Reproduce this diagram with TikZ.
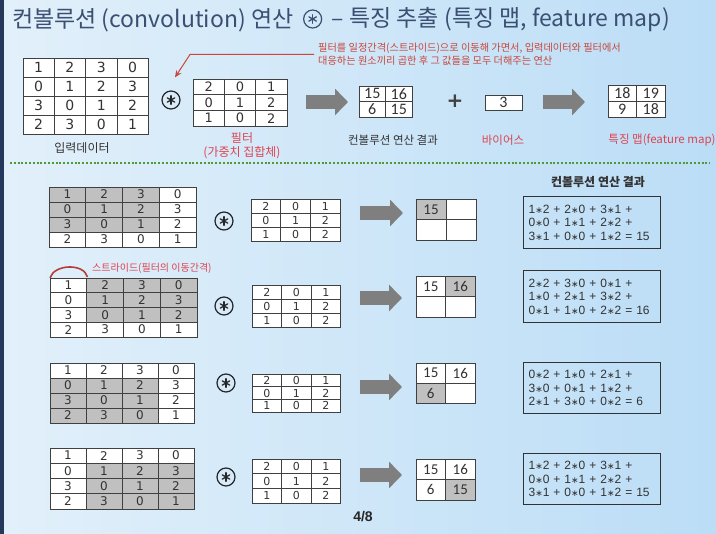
\documentclass[tikz,border=0pt]{standalone}
\usepackage{fontspec}
\setmainfont{Liberation Sans}
\newfontfamily\kr{Noto Sans CJK KR}
\newfontfamily\dv{DejaVu Sans}
\newfontfamily\crl{Carlito}
\usetikzlibrary{arrows.meta,calc}

\definecolor{bgL}{HTML}{E2F0FA}
\definecolor{bgM}{HTML}{EFF7FC}
\definecolor{bgR}{HTML}{BBDDF6}
\definecolor{navy}{HTML}{24395A}
\definecolor{titleblue}{HTML}{3B4F72}
\definecolor{gridline}{HTML}{404040}
\definecolor{cellshade}{HTML}{C0C0C0}
\definecolor{arrowgray}{HTML}{7F7F7F}
\definecolor{lblred}{HTML}{DD4452}
\definecolor{notered}{HTML}{C8463C}
\definecolor{dotgreen}{HTML}{4E9A34}
\definecolor{darktext}{HTML}{333333}

% grid of numbered cells:
% #1 name, #2 x, #3 y (top left), #4 cell width, #5 cell height,
% #6 rows, #7/#8 first shaded row/column, #9 size of the shaded window
\newcommand\numgrid[9]{%
  \foreach \rowdata [count=\r] in {#6} {
    \foreach \v [count=\c] in \rowdata {
      \pgfmathtruncatemacro\insh{and(and(\r>=#7,\r<#7+#9),and(\c>=#8,\c<#8+#9))}
      \ifnum\insh=1 \def\cfill{cellshade}\else\def\cfill{white}\fi
      \node[cell, fill=\cfill, minimum width=#4, minimum height=#5]
        (#1-\r-\c) at ({#2+(\c-0.5)*#4},{#3+(\r-0.5)*#5}) {\v};
    }
  }
}

% circled asterisk operator: #1 name, #2 position, #3 colour
\newcommand\convop[3]{%
  \node[opcirc, draw=#3] (#1) at (#2) {};
  \foreach \a in {90,30,-30}
    \draw[#3, line width=1.3pt, line cap=round]
      ($(#1.center)+(\a:4.3)$) -- ($(#1.center)+(\a+180:4.3)$);
}

\def\gridfont{\dv\fontsize{12}{12}\selectfont}

\tikzset{
  cell/.style={draw=gridline, line width=0.8pt, inner sep=0pt, text=black!80, font=\gridfont},
  opcirc/.style={circle, line width=1.2pt, minimum size=18pt, inner sep=0pt},
  blockarrow/.style={arrowgray, line width=14pt, -{Triangle[width=26pt,length=13pt]}},
  lbl/.style={font=\kr\fontsize{12}{14}\selectfont, text=darktext, inner sep=0pt},
  redlbl/.style={lbl, text=lblred},
  ttlfont/.style={inner sep=0pt, text=titleblue, font=\kr\fontsize{23}{26}\selectfont},
  fbox/.style={draw=black!80, line width=1.2pt, minimum width=137pt, text width=127pt,
    inner xsep=5pt, inner ysep=0pt, align=left, anchor=north west,
    font=\fontsize{12}{13.6}\selectfont, text=black!80},
}

\newcommand\mul{{\dv\fontsize{9}{9}\selectfont ∗}}

\begin{document}
\begin{tikzpicture}[x=1pt, y=-1pt]
\useasboundingbox (0,0) rectangle (716,534);
\shade[left color=bgL, middle color=bgM, right color=bgR] (0,0) rectangle (716,534);
\fill[navy] (0,0) rectangle (4,534);

% heading
\node[ttlfont, anchor=west] (ttl) at (12,20) {컨볼루션 (convolution) 연산};
\convop{ttlop}{$(ttl.east)+(19,-1)$}{titleblue}
\node[ttlfont, anchor=west] (ttr) at ($(ttlop.center)+(19,1)$) {– 특징 추출 (특징 맵, feature map)};

% ---- overview row ----
\def\gridfont{\dv\fontsize{14}{14}\selectfont}
\numgrid{tin}{23}{58}{31.3}{19}{{1,2,3,0},{0,1,2,3},{3,0,1,2},{2,3,0,1}}{1}{1}{0}
\node[lbl] (tinl) at (82,148) {입력데이터};

\convop{op0}{171,100}{black!85}

\def\gridfont{\dv\fontsize{13}{13}\selectfont}
\numgrid{tfl}{193}{79}{31.3}{15.7}{{2,0,1},{0,1,2},{1,0,2}}{1}{1}{0}
\node[redlbl] (tfll) at (242,138) {필터};
\node[redlbl] (tfll2) at (242,153) {(가중치 집합체)};

\coordinate (a0s) at (306,102);
\coordinate (a0e) at (348,102);
\draw[blockarrow] (a0s) -- (a0e);

\def\gridfont{\crl\fontsize{16}{16}\selectfont}
\numgrid{tres}{359}{86}{26.5}{15.5}{{15,16},{6,15}}{1}{1}{0}
\node[lbl, font=\kr\fontsize{11.5}{14}\selectfont] (tresl) at (393,140) {컨볼루션 연산 결과};

\node[font=\dv\bfseries\fontsize{20}{20}\selectfont, text=black!75, inner sep=0pt] (plus) at (455,101) {+};

\numgrid{tbias}{485}{95}{37}{15}{{3}}{1}{1}{0}
\node[redlbl, font=\kr\fontsize{11.5}{14}\selectfont] (tbiasl) at (503,140) {바이어스};

\coordinate (a9s) at (543,102);
\coordinate (a9e) at (585,102);
\draw[blockarrow] (a9s) -- (a9e);

\numgrid{tfm}{608}{85}{28.5}{16}{{18,19},{9,18}}{1}{1}{0}
\node[redlbl, font=\kr\fontsize{11.5}{14}\selectfont] (tfml) at (662,140) {특징 맵(feature map)};

% note on the sliding filter
\node[anchor=west, inner sep=0pt, align=left, text=notered, font=\kr\fontsize{10.2}{13}\selectfont]
  (note) at (318,54.5) {필터를 일정간격(스트라이드)으로 이동해 가면서, 입력데이터와 필터에서\\대응하는 원소끼리 곱한 후 그 값들을 모두 더해주는 연산};
\coordinate (bend) at (190,54.5);
\coordinate (optip) at ($(op0.north)+(4,-13)$);
\draw[notered, line width=1pt, -{Stealth[length=7pt,width=6pt]}]
  ([xshift=-4pt]note.west) -- (bend) -- (optip);

% separator
\draw[dotgreen, line width=2.2pt, dash pattern=on 2pt off 1.8pt] (10,163) -- (710,163);

% ---- step by step ----
\node[lbl, font=\kr\bfseries\fontsize{12}{14}\selectfont] (steph) at (598,182) {컨볼루션 연산 결과};

% step 1
\def\gridfont{\dv\fontsize{12}{12}\selectfont}
\numgrid{in1}{49}{187}{36.75}{15}{{1,2,3,0},{0,1,2,3},{3,0,1,2},{2,3,0,1}}{1}{1}{3}
\convop{op1}{224,221}{black!85}
\def\gridfont{\dv\fontsize{11}{11}\selectfont}
\numgrid{fl1}{251}{199}{29.7}{14}{{2,0,1},{0,1,2},{1,0,2}}{1}{1}{0}
\coordinate (a1s) at (360,213);
\coordinate (a1e) at (403,213);
\draw[blockarrow] (a1s) -- (a1e);
\def\gridfont{\crl\fontsize{15}{15}\selectfont}
\numgrid{res1}{416}{199}{30}{20.5}{{15,{}},{{},{}}}{1}{1}{1}
\node[fbox, minimum height=52pt] (box1) at (523,196)
  {1\mul2 + 2\mul0 + 3\mul1 +\\0\mul0 + 1\mul1 + 2\mul2 +\\3\mul1 + 0\mul0 + 1\mul2 = 15};

% step 2
\draw[notered!90!black, line width=1.6pt] (50,278) .. controls (54,264) and (84,263) .. (87.5,277);
\node[redlbl, anchor=west, font=\kr\fontsize{10}{12}\selectfont] (strl) at (92,268) {스트라이드(필터의 이동간격)};
\def\gridfont{\dv\fontsize{12}{12}\selectfont}
\numgrid{in2}{50}{278}{36.75}{14.75}{{1,2,3,0},{0,1,2,3},{3,0,1,2},{2,3,0,1}}{1}{2}{3}
\convop{op2}{224,306}{black!85}
\def\gridfont{\dv\fontsize{11}{11}\selectfont}
\numgrid{fl2}{252}{285}{29.5}{14}{{2,0,1},{0,1,2},{1,0,2}}{1}{1}{0}
\coordinate (a2s) at (360,298);
\coordinate (a2e) at (402,298);
\draw[blockarrow] (a2s) -- (a2e);
\def\gridfont{\crl\fontsize{15}{15}\selectfont}
\numgrid{res2}{416}{276}{29.5}{20.5}{{15,16},{{},{}}}{1}{2}{1}
\node[fbox, minimum height=52pt] (box2) at (523,270)
  {2\mul2 + 3\mul0 + 0\mul1 +\\1\mul0 + 2\mul1 + 3\mul2 +\\0\mul1 + 1\mul0 + 2\mul2 = 16};

% step 3
\def\gridfont{\dv\fontsize{12}{12}\selectfont}
\numgrid{in3}{50}{363}{36}{15}{{1,2,3,0},{0,1,2,3},{3,0,1,2},{2,3,0,1}}{2}{1}{3}
\convop{op3}{226,383}{black!85}
\def\gridfont{\dv\fontsize{11}{11}\selectfont}
\numgrid{fl3}{252}{374}{29.5}{12.7}{{2,0,1},{0,1,2},{1,0,2}}{1}{1}{0}
\coordinate (a3s) at (360,387);
\coordinate (a3e) at (402,387);
\draw[blockarrow] (a3s) -- (a3e);
\def\gridfont{\crl\fontsize{15}{15}\selectfont}
\numgrid{res3}{416}{363}{29.5}{20}{{15,16},{6,{}}}{2}{1}{1}
\node[fbox, minimum height=51pt] (box3) at (523,362)
  {0\mul2 + 1\mul0 + 2\mul1 +\\3\mul0 + 0\mul1 + 1\mul2 +\\2\mul1 + 3\mul0 + 0\mul2 = 6};

% step 4
\def\gridfont{\dv\fontsize{12}{12}\selectfont}
\numgrid{in4}{50}{448}{36}{15.25}{{1,2,3,0},{0,1,2,3},{3,0,1,2},{2,3,0,1}}{2}{2}{3}
\convop{op4}{226,477}{black!85}
\def\gridfont{\dv\fontsize{11}{11}\selectfont}
\numgrid{fl4}{252}{459}{29.5}{14.7}{{2,0,1},{0,1,2},{1,0,2}}{1}{1}{0}
\coordinate (a4s) at (360,475);
\coordinate (a4e) at (402,475);
\draw[blockarrow] (a4s) -- (a4e);
\def\gridfont{\crl\fontsize{15}{15}\selectfont}
\numgrid{res4}{416}{459}{29.5}{20.5}{{15,16},{6,15}}{2}{2}{1}
\node[fbox, minimum height=51pt] (box4) at (523,453)
  {1\mul2 + 2\mul0 + 3\mul1 +\\0\mul0 + 1\mul1 + 2\mul2 +\\3\mul1 + 0\mul0 + 1\mul2 = 15};

% page number
\node[font=\bfseries\fontsize{14}{14}\selectfont, text=black!85, inner sep=0pt] (pg) at (363,517) {4/8};
\end{tikzpicture}
\end{document}
